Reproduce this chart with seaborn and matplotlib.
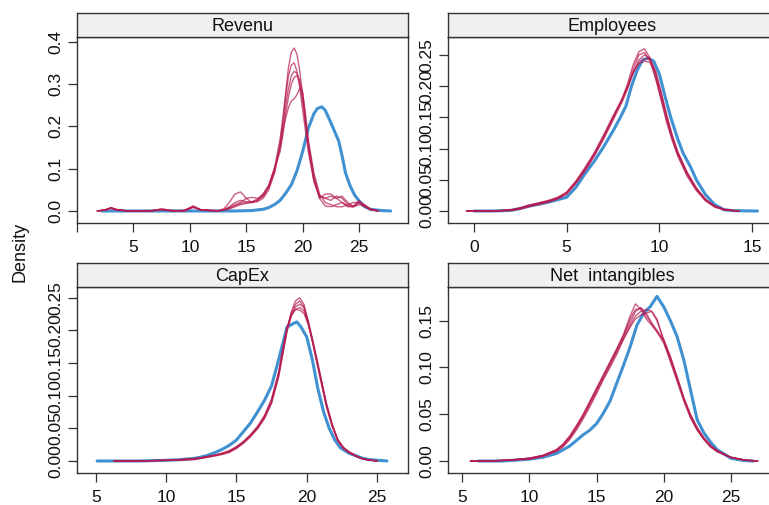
import matplotlib
matplotlib.use("Agg")
import matplotlib.pyplot as plt
import seaborn as sns

# ---------------------------------------------------------------
# Density curves: observed data (blue) and five imputed sets (red)
# ---------------------------------------------------------------
panel_titles = ["Revenu", "Employees", "CapEx", "Net  intangibles"]

# Revenu
rev_obs_x = [2.2, 5, 10, 14, 15.5, 16.5, 17, 17.5, 18, 18.5, 19, 19.5, 20, 20.5, 21,
             21.3, 21.7, 22, 22.4, 22.8, 23.2, 23.5, 23.8, 24.2, 24.6, 25, 25.5, 26, 27, 27.8]
rev_obs_y = [0, 0, 0, 0, 0.001, 0.004, 0.008, 0.015, 0.025, 0.042, 0.062, 0.095, 0.14,
             0.195, 0.23, 0.242, 0.246, 0.238, 0.215, 0.19, 0.165, 0.13, 0.09, 0.06, 0.038,
             0.024, 0.01, 0.004, 0.001, 0]
rev_imp_x = [1.8, 2.5, 3.0, 3.5, 4.5, 6.5, 7.5, 8.5, 9.5, 10.3, 11.0, 12.5, 13.0, 13.5,
             14.0, 14.5, 15.0, 15.5, 16.0, 16.5, 17.0, 17.5, 18.0, 18.25, 18.5, 18.75,
             19.0, 19.25, 19.5, 19.75, 20.0, 20.25, 20.5, 21.0, 21.5, 22.0, 22.5, 23.0,
             23.5, 24.0, 24.5, 25.0, 25.5, 26.0, 26.7]
rev_imp_1 = [0, 0.002, 0.008, 0.004, 0, 0, 0.004, 0, 0, 0.01, 0.002, 0, 0.003, 0.01, 0.02,
             0.025, 0.022, 0.02, 0.025, 0.035, 0.06, 0.1, 0.17, 0.22, 0.28, 0.34, 0.375,
             0.385, 0.37, 0.33, 0.27, 0.21, 0.16, 0.08, 0.03, 0.012, 0.01, 0.015, 0.02,
             0.012, 0.01, 0.02, 0.012, 0.004, 0]
rev_imp_2 = [0, 0.003, 0.007, 0.003, 0, 0, 0.003, 0, 0.002, 0.01, 0.002, 0, 0.005, 0.02,
             0.04, 0.045, 0.03, 0.02, 0.022, 0.03, 0.05, 0.09, 0.16, 0.21, 0.27, 0.32,
             0.345, 0.35, 0.33, 0.29, 0.24, 0.19, 0.14, 0.07, 0.035, 0.03, 0.035, 0.03,
             0.02, 0.01, 0.01, 0.015, 0.01, 0.003, 0]
rev_imp_3 = [0, 0.002, 0.006, 0.002, 0, 0.001, 0.004, 0.001, 0.001, 0.012, 0.003, 0, 0.002,
             0.008, 0.015, 0.02, 0.03, 0.032, 0.03, 0.035, 0.055, 0.09, 0.15, 0.2, 0.25,
             0.29, 0.32, 0.33, 0.325, 0.3, 0.26, 0.21, 0.15, 0.07, 0.03, 0.04, 0.04, 0.03,
             0.035, 0.02, 0.01, 0.02, 0.015, 0.005, 0]
rev_imp_4 = [0, 0.003, 0.007, 0.003, 0, 0, 0.003, 0, 0, 0.008, 0.003, 0.001, 0.003, 0.005,
             0.01, 0.015, 0.018, 0.02, 0.025, 0.04, 0.06, 0.1, 0.14, 0.18, 0.23, 0.27, 0.3,
             0.315, 0.32, 0.31, 0.28, 0.22, 0.16, 0.08, 0.035, 0.03, 0.025, 0.035, 0.03,
             0.015, 0.012, 0.025, 0.012, 0.003, 0]
rev_imp_5 = [0, 0.002, 0.008, 0.003, 0, 0, 0.005, 0.001, 0, 0.01, 0.002, 0, 0.002, 0.006,
             0.012, 0.018, 0.02, 0.022, 0.028, 0.04, 0.06, 0.1, 0.15, 0.19, 0.22, 0.245,
             0.26, 0.265, 0.275, 0.29, 0.28, 0.23, 0.17, 0.09, 0.04, 0.02, 0.015, 0.01,
             0.01, 0.015, 0.02, 0.02, 0.012, 0.004, 0]

# Employees
emp_obs_x = [0, 1, 2, 2.5, 3, 3.5, 4, 4.5, 5, 5.5, 6, 6.5, 7, 7.5, 7.9, 8.2, 8.5, 8.8, 9.1,
             9.4, 9.7, 10, 10.3, 10.6, 11, 11.3, 11.7, 12, 12.5, 13, 13.5, 14, 15.3]
emp_obs_y = [0, 0, 0.001, 0.004, 0.008, 0.011, 0.014, 0.018, 0.022, 0.038, 0.06, 0.08,
             0.103, 0.128, 0.15, 0.168, 0.2, 0.225, 0.242, 0.245, 0.24, 0.22, 0.185, 0.152,
             0.115, 0.092, 0.07, 0.05, 0.026, 0.01, 0.002, 0.0005, 0]
emp_imp_x = [-0.4, 1, 2, 2.5, 3, 3.5, 4, 4.5, 5, 5.5, 6, 6.5, 7, 7.5, 8, 8.3, 8.6, 8.9,
             9.2, 9.5, 9.8, 10.1, 10.4, 10.7, 11, 11.5, 12, 12.5, 13, 13.5, 14.3]
emp_imp_1 = [0, 0, 0.001, 0.004, 0.008, 0.012, 0.015, 0.02, 0.03, 0.047, 0.068, 0.092,
             0.12, 0.15, 0.18, 0.205, 0.235, 0.255, 0.26, 0.245, 0.215, 0.18, 0.145, 0.115,
             0.09, 0.058, 0.034, 0.017, 0.007, 0.002, 0]
emp_imp_2 = [0, 0, 0.002, 0.005, 0.01, 0.013, 0.016, 0.022, 0.029, 0.045, 0.066, 0.09,
             0.118, 0.148, 0.178, 0.2, 0.228, 0.25, 0.254, 0.24, 0.212, 0.178, 0.142, 0.113,
             0.088, 0.056, 0.033, 0.016, 0.006, 0.002, 0]
emp_imp_3 = [0, 0, 0.001, 0.003, 0.007, 0.01, 0.014, 0.019, 0.027, 0.044, 0.064, 0.088,
             0.115, 0.145, 0.175, 0.196, 0.222, 0.242, 0.25, 0.245, 0.22, 0.185, 0.15, 0.118,
             0.092, 0.06, 0.036, 0.018, 0.008, 0.003, 0]
emp_imp_4 = [0, 0, 0.001, 0.004, 0.009, 0.013, 0.017, 0.021, 0.03, 0.048, 0.07, 0.094,
             0.122, 0.152, 0.18, 0.2, 0.222, 0.238, 0.244, 0.243, 0.225, 0.19, 0.152, 0.12,
             0.094, 0.062, 0.037, 0.019, 0.008, 0.002, 0]
emp_imp_5 = [0, 0, 0.002, 0.005, 0.009, 0.012, 0.015, 0.02, 0.028, 0.046, 0.067, 0.091,
             0.119, 0.149, 0.178, 0.2, 0.222, 0.236, 0.24, 0.238, 0.222, 0.19, 0.155, 0.122,
             0.095, 0.062, 0.037, 0.018, 0.007, 0.002, 0]

# CapEx
cap_obs_x = [5.1, 8, 10, 11, 12, 12.5, 13, 13.5, 14, 14.5, 15, 15.5, 16, 16.5, 17, 17.5,
             18, 18.3, 18.6, 19, 19.3, 19.6, 20, 20.4, 20.8, 21.2, 21.6, 22, 22.4, 23, 23.5,
             24, 24.5, 25.7]
cap_obs_y = [0, 0, 0.001, 0.002, 0.004, 0.006, 0.009, 0.013, 0.018, 0.024, 0.032, 0.045,
             0.058, 0.075, 0.093, 0.115, 0.155, 0.18, 0.205, 0.21, 0.213, 0.205, 0.19, 0.155,
             0.11, 0.075, 0.05, 0.032, 0.02, 0.012, 0.008, 0.004, 0.002, 0]
cap_imp_x = [6.3, 8, 10, 11, 12, 12.5, 13, 13.5, 14, 14.5, 15, 15.5, 16, 16.5, 17, 17.5,
             18, 18.3, 18.6, 18.9, 19.2, 19.5, 19.8, 20.1, 20.4, 20.7, 21, 21.4, 21.8, 22.2,
             22.6, 23, 23.5, 24, 25]
cap_imp_1 = [0, 0, 0.001, 0.002, 0.003, 0.004, 0.006, 0.008, 0.011, 0.014, 0.02, 0.028,
             0.038, 0.05, 0.066, 0.09, 0.13, 0.165, 0.2, 0.228, 0.245, 0.25, 0.24, 0.215,
             0.185, 0.155, 0.125, 0.085, 0.055, 0.032, 0.02, 0.014, 0.008, 0.003, 0]
cap_imp_2 = [0, 0, 0.001, 0.002, 0.003, 0.005, 0.007, 0.009, 0.012, 0.016, 0.022, 0.03,
             0.04, 0.052, 0.068, 0.093, 0.133, 0.168, 0.202, 0.226, 0.24, 0.245, 0.236,
             0.212, 0.183, 0.152, 0.122, 0.083, 0.053, 0.031, 0.019, 0.013, 0.007, 0.003, 0]
cap_imp_3 = [0, 0, 0.001, 0.001, 0.002, 0.004, 0.006, 0.008, 0.01, 0.013, 0.019, 0.027,
             0.037, 0.049, 0.065, 0.088, 0.128, 0.163, 0.198, 0.222, 0.236, 0.24, 0.235,
             0.215, 0.188, 0.158, 0.128, 0.088, 0.057, 0.033, 0.021, 0.014, 0.008, 0.003, 0]
cap_imp_4 = [0, 0, 0.001, 0.002, 0.003, 0.005, 0.007, 0.009, 0.012, 0.015, 0.021, 0.029,
             0.039, 0.051, 0.067, 0.092, 0.134, 0.17, 0.203, 0.222, 0.232, 0.235, 0.23,
             0.21, 0.184, 0.155, 0.126, 0.087, 0.056, 0.033, 0.02, 0.013, 0.007, 0.003, 0]
cap_imp_5 = [0, 0, 0.001, 0.002, 0.004, 0.005, 0.007, 0.009, 0.011, 0.015, 0.021, 0.029,
             0.04, 0.053, 0.07, 0.095, 0.136, 0.172, 0.205, 0.224, 0.232, 0.231, 0.226,
             0.21, 0.186, 0.158, 0.128, 0.088, 0.056, 0.033, 0.021, 0.014, 0.008, 0.003, 0]

# Net intangibles
nin_obs_x = [6.2, 8, 10, 11, 12, 12.5, 13, 13.5, 14, 14.5, 15, 15.5, 16, 16.5, 17, 17.5,
             18, 18.5, 19, 19.5, 20, 20.5, 21, 21.5, 22, 22.5, 23, 23.5, 24, 25, 26, 26.7]
nin_obs_y = [0, 0, 0.002, 0.004, 0.008, 0.012, 0.016, 0.022, 0.028, 0.033, 0.04, 0.051,
             0.064, 0.083, 0.102, 0.122, 0.145, 0.158, 0.165, 0.176, 0.165, 0.15, 0.133,
             0.108, 0.076, 0.044, 0.03, 0.02, 0.012, 0.003, 0.0005, 0]
nin_imp_x = [5.6, 7, 8.5, 10, 11, 12, 12.5, 13, 13.5, 14, 14.5, 15, 15.5, 16, 16.5, 17,
             17.5, 17.9, 18.3, 18.7, 19.1, 19.5, 20, 20.5, 21, 21.5, 22, 22.5, 23, 23.5, 24,
             25, 26, 27]
nin_imp_1 = [0, 0, 0.001, 0.003, 0.006, 0.012, 0.018, 0.027, 0.038, 0.05, 0.064, 0.078,
             0.092, 0.106, 0.12, 0.135, 0.155, 0.168, 0.162, 0.152, 0.145, 0.138, 0.13,
             0.112, 0.09, 0.068, 0.05, 0.036, 0.025, 0.017, 0.011, 0.004, 0.001, 0]
nin_imp_2 = [0, 0, 0.001, 0.003, 0.006, 0.011, 0.017, 0.025, 0.036, 0.048, 0.062, 0.076,
             0.09, 0.104, 0.118, 0.133, 0.148, 0.16, 0.164, 0.158, 0.148, 0.138, 0.126,
             0.108, 0.088, 0.066, 0.048, 0.034, 0.024, 0.016, 0.01, 0.004, 0.001, 0]
nin_imp_3 = [0, 0, 0.001, 0.002, 0.005, 0.01, 0.015, 0.023, 0.033, 0.045, 0.058, 0.072,
             0.087, 0.1, 0.114, 0.13, 0.145, 0.155, 0.16, 0.162, 0.16, 0.15, 0.13, 0.11,
             0.088, 0.066, 0.047, 0.033, 0.023, 0.015, 0.01, 0.004, 0.001, 0]
nin_imp_4 = [0, 0, 0.001, 0.002, 0.005, 0.011, 0.016, 0.024, 0.035, 0.047, 0.06, 0.074,
             0.088, 0.102, 0.116, 0.13, 0.143, 0.152, 0.156, 0.158, 0.16, 0.152, 0.128,
             0.106, 0.085, 0.064, 0.046, 0.033, 0.023, 0.015, 0.01, 0.004, 0.001, 0]
nin_imp_5 = [0, 0, 0.001, 0.003, 0.006, 0.012, 0.018, 0.026, 0.037, 0.049, 0.063, 0.077,
             0.091, 0.105, 0.119, 0.134, 0.152, 0.162, 0.163, 0.155, 0.147, 0.14, 0.128,
             0.11, 0.09, 0.067, 0.049, 0.035, 0.024, 0.016, 0.011, 0.004, 0.001, 0]

# axis ticks and labels per panel
rev_xticks, rev_xlabels = [0, 5, 10, 15, 20, 25], ["", "5", "10", "15", "20", "25"]
emp_xticks, emp_xlabels = [0, 5, 10, 15], ["0", "5", "10", "15"]
cap_xticks, cap_xlabels = [5, 10, 15, 20, 25], ["5", "10", "15", "20", "25"]
nin_xticks, nin_xlabels = [5, 10, 15, 20, 25], ["5", "10", "15", "20", "25"]
rev_yticks, rev_ylabels = [0, 0.1, 0.2, 0.3, 0.4], ["0.0", "0.1", "0.2", "0.3", "0.4"]
emp_yticks = [0, 0.05, 0.10, 0.15, 0.20, 0.25]
emp_ylabels = ["0.00", "0.05", "0.10", "0.15", "0.20", "0.25"]
cap_yticks, cap_ylabels = emp_yticks, emp_ylabels
nin_yticks, nin_ylabels = [0, 0.05, 0.10, 0.15], ["0.00", "0.05", "0.10", "0.15"]

# ---------------------------------------------------------------
sns.set_theme(style="white")
plt.rcParams["font.family"] = ["Liberation Sans", "DejaVu Sans"]

W, H = 769, 505
fig = plt.figure(figsize=(W / 100, H / 100), dpi=100)
fig.patch.set_facecolor("white")

BLUE = "#006CC2"
RED = "#B61A51"
EDGE = "#333333"
FS = 12.5


def rect(l, t, r, b):
    return [l / W, 1 - b / H, (r - l) / W, (b - t) / H]


panels = [
    dict(title=panel_titles[0], box=(77, 37, 408, 223), xlim=(0.044, 29.34), ylim=(-0.0284, 0.411),
         ox=rev_obs_x, oy=rev_obs_y, ix=rev_imp_x,
         imps=[rev_imp_1, rev_imp_2, rev_imp_3, rev_imp_4, rev_imp_5],
         xt=rev_xticks, xl=rev_xlabels, yt=rev_yticks, yl=rev_ylabels),
    dict(title=panel_titles[1], box=(448, 37, 776, 223), xlim=(-1.4, 16.3), ylim=(-0.0192, 0.2788),
         ox=emp_obs_x, oy=emp_obs_y, ix=emp_imp_x,
         imps=[emp_imp_1, emp_imp_2, emp_imp_3, emp_imp_4, emp_imp_5],
         xt=emp_xticks, xl=emp_xlabels, yt=emp_yticks, yl=emp_ylabels),
    dict(title=panel_titles[2], box=(77, 287, 408, 473), xlim=(3.67, 27.2), ylim=(-0.0184, 0.2664),
         ox=cap_obs_x, oy=cap_obs_y, ix=cap_imp_x,
         imps=[cap_imp_1, cap_imp_2, cap_imp_3, cap_imp_4, cap_imp_5],
         xt=cap_xticks, xl=cap_xlabels, yt=cap_yticks, yl=cap_ylabels),
    dict(title=panel_titles[3], box=(448, 287, 776, 473), xlim=(3.93, 28.37), ylim=(-0.0128, 0.186),
         ox=nin_obs_x, oy=nin_obs_y, ix=nin_imp_x,
         imps=[nin_imp_1, nin_imp_2, nin_imp_3, nin_imp_4, nin_imp_5],
         xt=nin_xticks, xl=nin_xlabels, yt=nin_yticks, yl=nin_ylabels),
]

for p in panels:
    l, t, r, b = p["box"]
    ax = fig.add_axes(rect(l, t, r, b))
    ax.set_facecolor("white")

    sns.lineplot(x=p["ox"], y=p["oy"], ax=ax, color=BLUE, alpha=0.75, linewidth=2.2,
                 sort=False, estimator=None)
    for imp in p["imps"]:
        sns.lineplot(x=p["ix"], y=imp, ax=ax, color=RED, alpha=0.7, linewidth=1.0,
                     sort=False, estimator=None)

    ax.set_xlim(*p["xlim"])
    ax.set_ylim(*p["ylim"])
    ax.set_xticks(p["xt"])
    ax.set_xticklabels(p["xl"])
    ax.set_yticks(p["yt"])
    ax.set_yticklabels(p["yl"], rotation=90, va="center", ha="right")
    ax.set_xlabel("")
    ax.set_ylabel("")
    ax.tick_params(axis="both", direction="out", length=6.5, width=0.9, color=EDGE,
                   labelsize=FS, labelcolor="#111111")
    ax.tick_params(axis="x", pad=6, bottom=True)
    ax.tick_params(axis="y", pad=3, left=True)
    for s in ax.spines.values():
        s.set_color(EDGE)
        s.set_linewidth(1.0)

    # strip with the panel title
    st = fig.add_axes(rect(l, t - 24, r, t))
    st.set_facecolor("#F0F0F0")
    st.set_xticks([])
    st.set_yticks([])
    for s in st.spines.values():
        s.set_color(EDGE)
        s.set_linewidth(1.0)
    st.text(0.5 * (r - l) / (min(r, W) - l) * ((min(r, W) - l) / (r - l)), 0.45, p["title"],
            transform=st.transAxes, ha="center", va="center", fontsize=FS + 0.5, color="#111111")

fig.text(20 / W, 1 - 252 / H, "Density", rotation=90, ha="center", va="center",
         fontsize=FS + 0.5, color="#111111")

fig.savefig("out.png", dpi=100)
